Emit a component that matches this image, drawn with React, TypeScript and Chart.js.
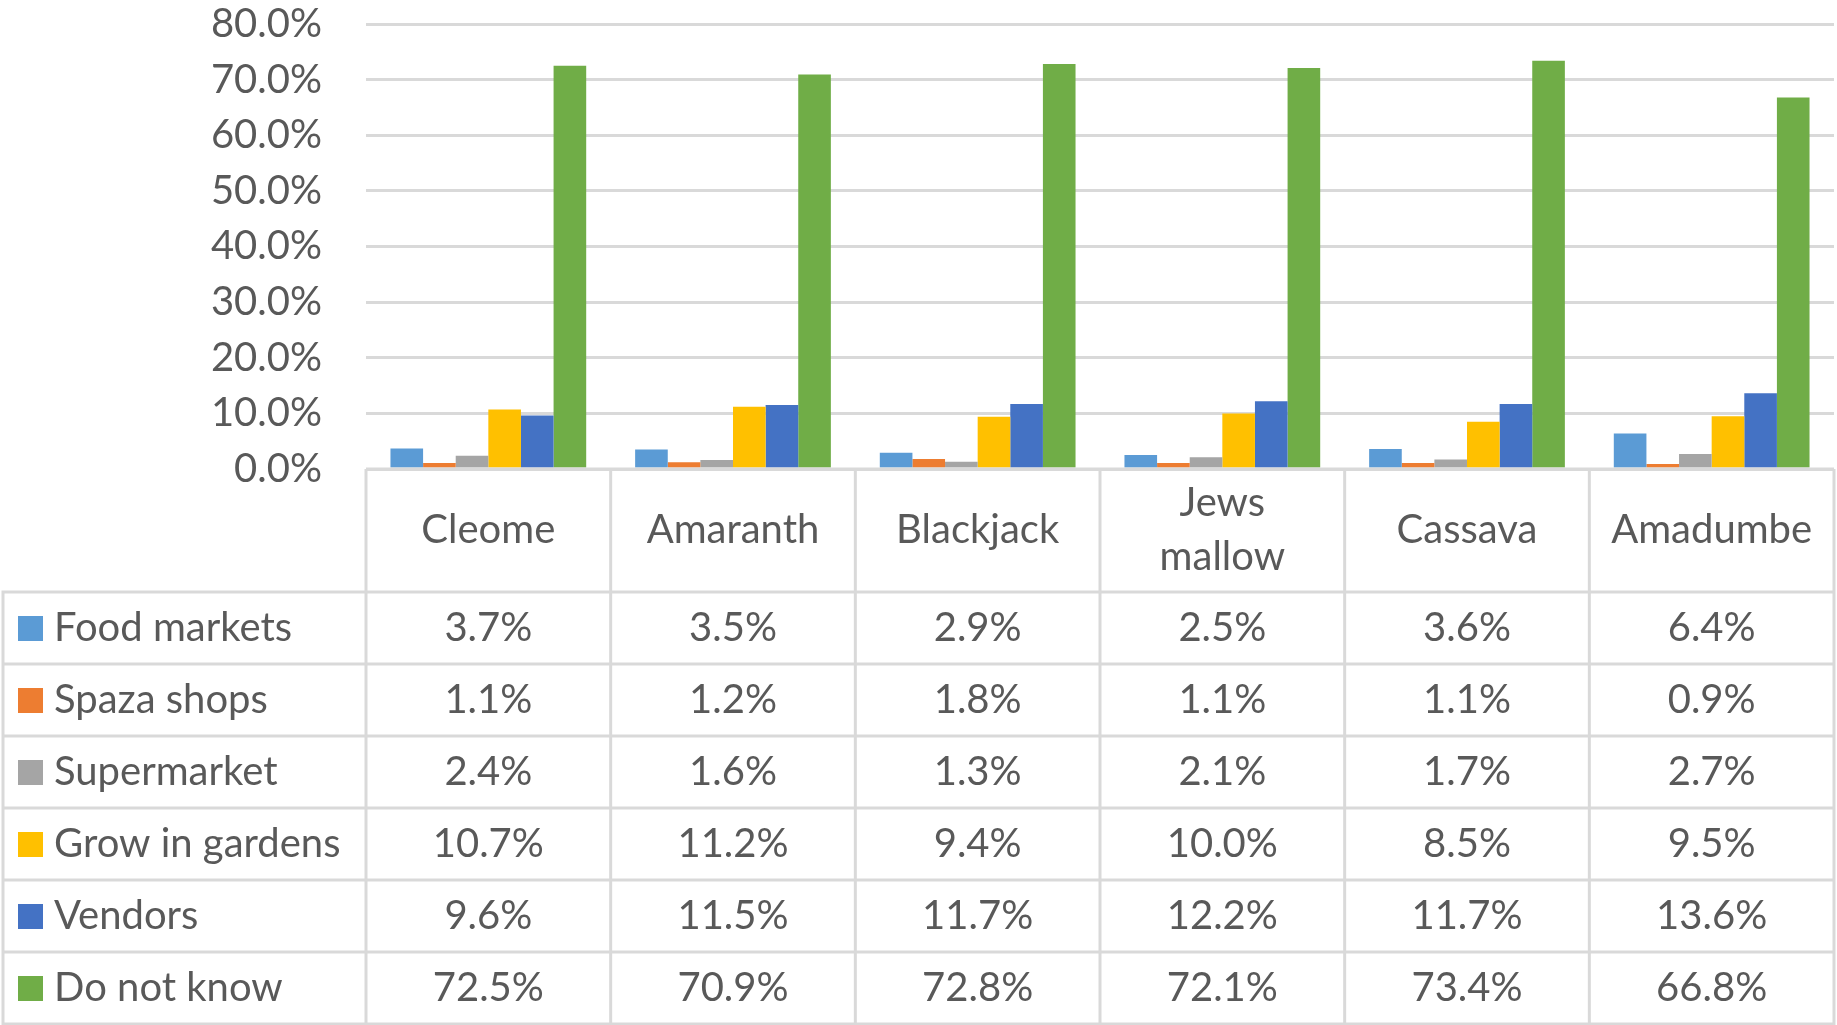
import { useEffect, useRef } from 'react';
import { Chart, registerables } from 'chart.js';

Chart.register(...registerables);

// categories (columns of the data table)
const crops: (string | string[])[] = ['Cleome', 'Amaranth', 'Blackjack', ['Jews', 'mallow'], 'Cassava', 'Amadumbe'];

// series names and values, in percent
const sources = ['Food markets', 'Spaza shops', 'Supermarket', 'Grow in gardens', 'Vendors', 'Do not know'];
const foodMarkets = [3.7, 3.5, 2.9, 2.5, 3.6, 6.4];
const spazaShops = [1.1, 1.2, 1.8, 1.1, 1.1, 0.9];
const supermarket = [2.4, 1.6, 1.3, 2.1, 1.7, 2.7];
const growInGardens = [10.7, 11.2, 9.4, 10.0, 8.5, 9.5];
const vendors = [9.6, 11.5, 11.7, 12.2, 11.7, 13.6];
const doNotKnow = [72.5, 70.9, 72.8, 72.1, 73.4, 66.8];
const seriesValues = [foodMarkets, spazaShops, supermarket, growInGardens, vendors, doNotKnow];

// y axis ticks
const yMax = 80;
const yStep = 10;

const colors = ['#5B9BD5', '#ED7D31', '#A5A5A5', '#FFC000', '#4472C4', '#70AD47'];

const FONT = 'Lato, "Noto Sans", sans-serif';
const FONT_SIZE = 40;
const TEXT = '#595959';
const LINE = '#D9D9D9';
const HEADER_H = 123;
const ROW_H = 72;

const pct = (v: number) => v.toFixed(1) + '%';

// draws the data table under the plot, with columns from the x scale
const dataTable = {
    id: 'dataTable',
    afterDraw(chart: Chart) {
        const { ctx, chartArea } = chart;
        const xs = chart.scales.x;
        const n = crops.length;
        const colW = (chartArea.right - chartArea.left) / n;
        const top = chartArea.bottom;
        const rowsTop = top + HEADER_H;
        const bottom = rowsTop + ROW_H * sources.length;
        const tableLeft = 3;

        ctx.save();
        ctx.strokeStyle = LINE;
        ctx.lineWidth = 3;
        ctx.beginPath();
        // header top
        ctx.moveTo(chartArea.left, top);
        ctx.lineTo(chartArea.right, top);
        // row lines
        for (let r = 0; r <= sources.length; r++) {
            const y = rowsTop + r * ROW_H;
            ctx.moveTo(tableLeft - 1.5, y);
            ctx.lineTo(chartArea.right + 1.5, y);
        }
        // column lines
        for (let c = 0; c <= n; c++) {
            const x = chartArea.left + c * colW;
            ctx.moveTo(x, top);
            ctx.lineTo(x, bottom);
        }
        ctx.moveTo(tableLeft, rowsTop);
        ctx.lineTo(tableLeft, bottom);
        ctx.stroke();

        ctx.fillStyle = TEXT;
        ctx.font = `${FONT_SIZE}px ${FONT}`;
        ctx.textAlign = 'center';
        ctx.textBaseline = 'middle';

        // header labels
        crops.forEach((label, i) => {
            const cx = xs.getPixelForValue(i);
            const lines = Array.isArray(label) ? label : [label];
            const lh = 54;
            const y0 = top + HEADER_H / 2 - ((lines.length - 1) * lh) / 2;
            lines.forEach((t, k) => ctx.fillText(t, cx, y0 + k * lh));
        });

        // rows
        sources.forEach((name, r) => {
            const cy = rowsTop + r * ROW_H + ROW_H / 2;
            ctx.fillStyle = colors[r];
            ctx.fillRect(18, cy - 12, 25, 25);
            ctx.fillStyle = TEXT;
            ctx.textAlign = 'left';
            ctx.fillText(name, 54, cy);
            ctx.textAlign = 'center';
            seriesValues[r].forEach((v, i) => {
                ctx.fillText(pct(v), xs.getPixelForValue(i), cy);
            });
        });
        ctx.restore();
    },
};

function SourcesChart() {
    const chartRef = useRef<HTMLCanvasElement>(null);
    const chartInstance = useRef<Chart | null>(null);

    useEffect(() => {
        if (!chartRef.current) return;
        const ctx = chartRef.current.getContext('2d');
        if (!ctx) return;
        if (chartInstance.current) chartInstance.current.destroy();

        chartInstance.current = new Chart(ctx, {
            type: 'bar',
            data: {
                labels: crops.map((c) => (Array.isArray(c) ? c.join(' ') : c)),
                datasets: sources.map((name, i) => ({
                    label: name,
                    data: seriesValues[i],
                    backgroundColor: colors[i],
                    borderWidth: 0,
                    categoryPercentage: 0.8,
                    barPercentage: 1.0,
                })),
            },
            options: {
                responsive: true,
                maintainAspectRatio: false,
                animation: false,
                layout: { padding: { top: 0, right: 3, bottom: 556, left: 0 } },
                scales: {
                    x: { display: false },
                    y: {
                        min: 0,
                        max: yMax,
                        border: { display: false },
                        grid: { color: LINE, lineWidth: 3, drawTicks: true, tickLength: 44, tickColor: 'rgba(0,0,0,0)' },
                        ticks: {
                            stepSize: yStep,
                            padding: 0,
                            color: TEXT,
                            font: { family: FONT, size: FONT_SIZE },
                            callback: (v) => pct(Number(v)),
                        },
                        afterFit: (scale) => {
                            scale.width = 366;
                        },
                    },
                },
                plugins: {
                    legend: { display: false },
                    tooltip: { enabled: false },
                },
            },
            plugins: [dataTable],
        });

        return () => {
            if (chartInstance.current) {
                chartInstance.current.destroy();
                chartInstance.current = null;
            }
        };
    }, []);

    return (
        <div style={{ position: 'absolute', left: 0, top: 0, width: 1837, height: 1025, background: '#fff' }}>
            <canvas ref={chartRef}></canvas>
        </div>
    );
}

export default function App() {
    return <SourcesChart />;
}
